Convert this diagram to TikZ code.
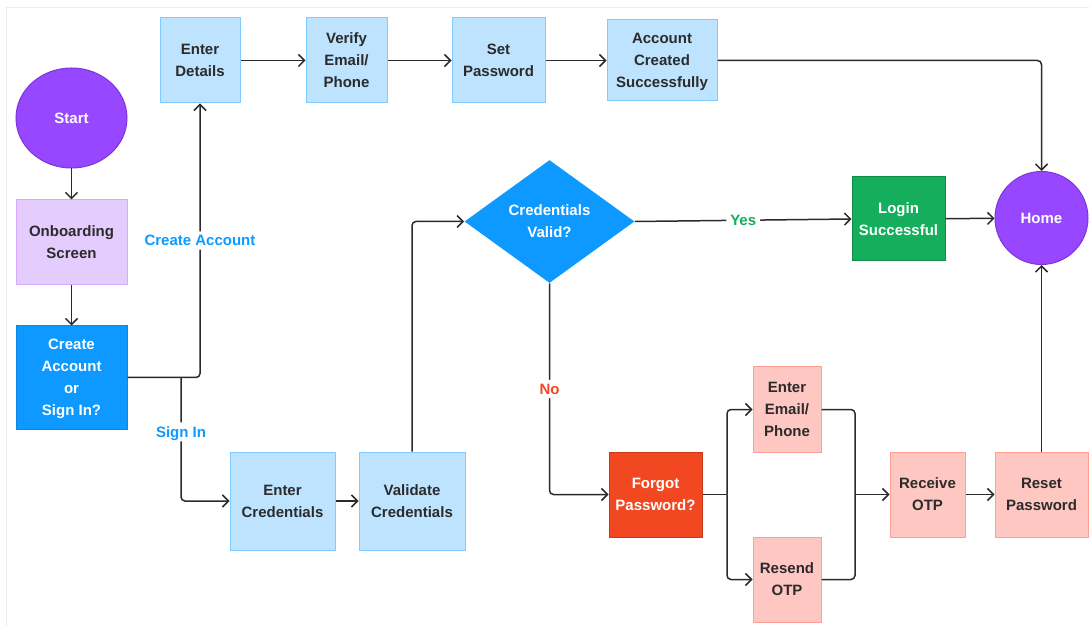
\documentclass[tikz,border=0pt]{standalone}
\usepackage{fontspec}
\setmainfont{Liberation Sans}
\usepackage{tikz}
\usetikzlibrary{shapes.geometric,arrows.meta}

\definecolor{purp}{HTML}{9747FF}
\definecolor{purpline}{HTML}{7A35D9}
\definecolor{lilac}{HTML}{E4CCFF}
\definecolor{lilacline}{HTML}{D6A8FF}
\definecolor{figblue}{HTML}{0D99FF}
\definecolor{figblueline}{HTML}{0B88E3}
\definecolor{skyblue}{HTML}{BDE3FF}
\definecolor{skyline}{HTML}{80CAFF}
\definecolor{figgreen}{HTML}{14AE5C}
\definecolor{figgreenline}{HTML}{0F8A48}
\definecolor{figred}{HTML}{F24822}
\definecolor{figredline}{HTML}{C63A1A}
\definecolor{salmon}{HTML}{FFC7C2}
\definecolor{salmonline}{HTML}{FF9E94}
\definecolor{inkdark}{HTML}{2B2B2B}
\definecolor{framegray}{HTML}{ECECEC}

\tikzset{
  txt/.style={font=\bfseries\fontsize{7.5}{11}\selectfont, align=center, inner sep=0pt, text depth=0pt},
  box/.style={txt, draw, line width=0.5pt, text=inkdark},
  lightbox/.style={box, fill=skyblue, draw=skyline},
  pinkbox/.style={box, fill=salmon, draw=salmonline},
  terminal/.style={txt, draw=purpline, fill=purp, text=white, line width=0.5pt},
  flow/.style={draw=inkdark, line width=0.75pt, rounded corners=2pt},
  arr/.style={flow, -{Straight Barb[length=3pt,width=6pt]}},
  cond/.style={txt, fill=white, inner sep=2pt}
}

\begin{document}
\begin{tikzpicture}[x=0.5pt,y=-0.5pt]
  \useasboundingbox (0,0) rectangle (1089,626);
  % faint canvas frame
  \draw[framegray, line width=0.5pt] (6,626) -- (6,8) -- (1089,8);

  % start and entry choice
  \node[terminal, ellipse, minimum width=55.5pt, minimum height=50pt] (start) at (71.5,118) {Start};
  \node[box, fill=lilac, draw=lilacline, minimum width=55.5pt, minimum height=42.5pt] (onboard) at (71.5,242.5) {Onboarding\\Screen};
  \node[box, fill=figblue, draw=figblueline, text=white, minimum width=55.5pt, minimum height=51.5pt] (choice) at (71.5,377.5) {Create\\Account\\or\\Sign In?};

  % sign up row
  \node[lightbox, minimum width=40pt, minimum height=42.5pt] (details) at (200,60.5) {Enter\\Details};
  \node[lightbox, minimum width=40.5pt, minimum height=42.5pt] (verify) at (346.5,60.5) {Verify\\Email/\\Phone};
  \node[lightbox, minimum width=46.5pt, minimum height=42.5pt] (setpw) at (498.5,60.5) {Set\\Password};
  \node[lightbox, minimum width=55pt, minimum height=40.5pt] (created) at (662,60.5) {Account\\Created\\Successfully};

  % sign in row
  \node[lightbox, minimum width=52.5pt, minimum height=49pt] (entercred) at (282.5,501) {Enter\\Credentials};
  \node[lightbox, minimum width=53pt, minimum height=49pt] (validate) at (412,501) {Validate\\Credentials};
  \node[txt, diamond, fill=figblue, text=white, minimum width=85pt, minimum height=61.5pt] (valid) at (549.5,221.5) {Credentials\\Valid?};
  \node[box, fill=figgreen, draw=figgreenline, text=white, minimum width=46.5pt, minimum height=42pt] (login) at (898.5,219) {Login\\Successful};
  \node[terminal, circle, minimum size=46.5pt] (home) at (1041.5,218) {Home};

  % password recovery
  \node[box, fill=figred, draw=figredline, text=white, minimum width=46.5pt, minimum height=42.5pt] (forgot) at (655.5,494.5) {Forgot\\Password?};
  \node[pinkbox, minimum width=34pt, minimum height=42.5pt] (email) at (787,409.5) {Enter\\Email/\\Phone};
  \node[pinkbox, minimum width=34pt, minimum height=42.5pt] (resend) at (787,579.5) {Resend\\OTP};
  \node[pinkbox, minimum width=37.5pt, minimum height=42.5pt] (otp) at (927.5,494.5) {Receive\\OTP};
  \node[pinkbox, minimum width=46.5pt, minimum height=42.5pt] (reset) at (1041.5,494.5) {Reset\\Password};

  % branch points
  \coordinate (split) at (181,377.5);
  \coordinate (fork) at (727,494.5);
  \coordinate (merge) at (855,494.5);

  % connectors
  \draw[arr] (start) -- (onboard);
  \draw[arr] (onboard) -- (choice);
  \draw[arr] (choice.east) -| node[cond, text=figblue, pos=0.75] (lblcreate) {Create Account} (details.south);
  \draw[arr] (split) |- node[cond, text=figblue, pos=0.22] (lblsignin) {Sign In} (entercred.west);
  \draw[arr] (details) -- (verify);
  \draw[arr] (verify) -- (setpw);
  \draw[arr] (setpw) -- (created);
  \draw[arr] (created.east) -| (home.north);
  \draw[arr] (entercred) -- (validate);
  \draw[arr] (validate.north) |- (valid.west);
  \draw[arr] (valid.east) -- node[cond, text=figgreen] (lblyes) {Yes} (login.west);
  \draw[arr] (login) -- (home);
  \draw[arr] (valid.south) |- node[cond, text=figred, pos=0.25] (lblno) {No} (forgot.west);
  \draw[flow] (forgot.east) -- (fork);
  \draw[arr] (fork) |- (email.west);
  \draw[arr] (fork) |- (resend.west);
  \draw[flow] (email.east) -| (merge);
  \draw[flow] (resend.east) -| (merge);
  \draw[arr] (merge) -- (otp.west);
  \draw[arr] (otp) -- (reset);
  \draw[arr] (reset) -- (home);
\end{tikzpicture}
\end{document}
